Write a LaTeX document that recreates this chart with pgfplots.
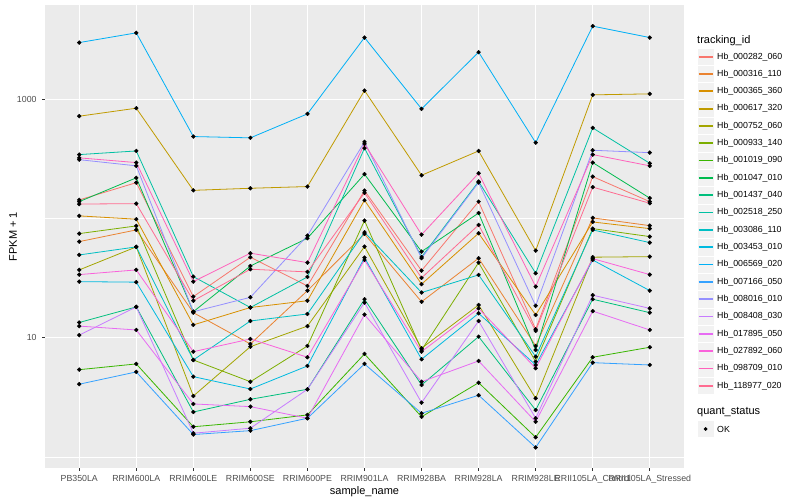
\documentclass[border=0pt]{standalone}
\usepackage{pgfplots}
\usepackage{pgfplotstable}
\pgfplotsset{compat=1.18}
\usepackage{fontspec}
\setmainfont{Liberation Sans}

\definecolor{bg}{HTML}{EBEBEB}
\definecolor{keybg}{HTML}{F2F2F2}
\definecolor{gray20}{HTML}{333333}
\definecolor{gray30}{HTML}{4D4D4D}
\definecolor{c1}{HTML}{F8766D}
\definecolor{c2}{HTML}{EA8331}
\definecolor{c3}{HTML}{D89000}
\definecolor{c4}{HTML}{C09B00}
\definecolor{c5}{HTML}{A3A500}
\definecolor{c6}{HTML}{7CAE00}
\definecolor{c7}{HTML}{39B600}
\definecolor{c8}{HTML}{00BB4E}
\definecolor{c9}{HTML}{00BF7D}
\definecolor{c10}{HTML}{00C1A3}
\definecolor{c11}{HTML}{00BFC4}
\definecolor{c12}{HTML}{00BAE0}
\definecolor{c13}{HTML}{00B0F6}
\definecolor{c14}{HTML}{35A2FF}
\definecolor{c15}{HTML}{9590FF}
\definecolor{c16}{HTML}{C77CFF}
\definecolor{c17}{HTML}{E76BF3}
\definecolor{c18}{HTML}{FA62DB}
\definecolor{c19}{HTML}{FF62BC}
\definecolor{c20}{HTML}{FF6C91}

% FPKM + 1, one row per sample (0 = PB350LA ... 10 = RRII105LA_Stressed)
\pgfplotstableread{
x  s1    s2    s3    s4    s5    s6    s7    s8    s9    s10   s11   s12   s13   s14   s15   s16   s17   s18   s19   s20
0  142.9 63.9  105   720   37.0  74.6  5.39  138.3 13.4  343   49.4  29.5  2984  4.07  311   10.5  12.5  33.8  322   132
1  199.6 80.1  98.5  840   57.7  86.5  6.02  219   18.1  368   57.7  29.2  3599  5.16  276   18.1  11.6  37.0  294   133
2  22.08 16.2  12.8  172   3.24  6.50  1.79  16.5  2.38  32.5  6.50  4.71  486   1.54  16.5  1.58  2.78  7.63  29.5  20.4
3  47.26 8.85  17.9  179   8.40  4.27  1.97  39.9  3.04  17.9  13.8  3.71  474   1.66  21.8  1.74  2.64  9.75  51.1  37.5
4  27.15 24.8  20.4  185   12.5  8.52  2.25  68.2  3.69  32.3  15.8  5.79  753   2.11  71.7  3.69  2.11  6.85  42.6  35.6
5  171.1 74.1  142   1181  58.0  95.8  7.30  235   21.0  388   76.6  46.9  3287  6.02  438   19.7  15.6  44.8  422   164
6  36.49 20.0  28.1  230   8.15  7.88  2.17  52.7  4.01  47.5  23.9  6.59  829   2.32  46.4  2.85  4.27  7.63  73.1  31.7
7  138.3 46.4  75.1  368   18.8  42.6  4.19  111   10.2  204   33.6  16.0  2480  3.29  200   13.8  6.38  17.6  239   88.2
8  11.76 8.52  15.5  53.7  3.10  6.29  1.46  7.88  2.47  34.7  6.93  5.90  432   1.20  18.5  2.11  1.97  5.54  26.8  11.4
9  224.2 101   93.4  1087  47.3  82.1  6.85  294   21.0  574   80.1  44.8  4097  6.17  373   22.7  16.7  46.0  343   183
10 138.3 87.0  82.1  1108  47.8  70.4  8.31  148   16.2  290   62.7  24.8  3287  5.90  356   17.6  11.6  33.8  276   134
}\fpkm

\begin{document}
\begin{tikzpicture}
\useasboundingbox (0pt,0pt) rectangle (800pt,500pt);
\begin{axis}[
  at={(45pt,32pt)}, anchor=south west,
  width=639pt, height=463pt, scale only axis,
  xmin=-0.6, xmax=10.6,
  ymode=log, ymin=0.807, ymax=6166,
  axis background/.style={fill=bg},
  axis line style={draw=none},
  xtick={0,...,10},
  xticklabels={PB350LA,RRIM600LA,RRIM600LE,RRIM600SE,RRIM600PE,RRIM901LA,RRIM928BA,RRIM928LA,RRIM928LE,RRII105LA\_Control,RRII105LA\_Stressed},
  ytick={10,1000}, yticklabels={10,1000},
  minor ytick={1,100},
  xmajorgrids, ymajorgrids, yminorgrids,
  major grid style={white, line width=1.07pt},
  minor grid style={white, line width=0.53pt},
  xtick pos=left, ytick pos=left,
  tick align=outside, major tick length=2.75pt, minor tick length=0pt,
  tick style={gray20, line width=1.07pt},
  ticklabel style={font=\fontsize{8.8}{10}\selectfont, text=gray30},
  xticklabel style={anchor=north, inner sep=0pt, yshift=-4pt},
  yticklabel style={anchor=east, inner sep=0pt, xshift=-5.5pt},
]
\pgfplotsinvokeforeach{1,...,20}{
  \addplot[color=c#1, line width=0.8pt, no markers] table[x=x, y=s#1]{\fpkm};
}
\pgfplotsinvokeforeach{1,...,20}{
  \addplot[only marks, mark=*, mark size=1.95pt, black] table[x=x, y=s#1]{\fpkm};
}
\end{axis}

\begin{scope}[x=1pt,y=1pt]
% axis titles
\node[font=\fontsize{11}{13}\selectfont] at (364.5,8.5) {sample\_name};
\node[font=\fontsize{11}{13}\selectfont, rotate=90] at (13,263.5) {FPKM + 1};

% legend
\node[anchor=west, inner sep=0pt, font=\fontsize{11}{13}\selectfont] at (697,459.3) {tracking\_id};
\foreach \n/\c [count=\i from 0] in {
  Hb\_000282\_060/c1, Hb\_000316\_110/c2, Hb\_000365\_360/c3, Hb\_000617\_320/c4,
  Hb\_000752\_060/c5, Hb\_000933\_140/c6, Hb\_001019\_090/c7, Hb\_001047\_010/c8,
  Hb\_001437\_040/c9, Hb\_002518\_250/c10, Hb\_003086\_110/c11, Hb\_003453\_010/c12,
  Hb\_006569\_020/c13, Hb\_007166\_050/c14, Hb\_008016\_010/c15, Hb\_008408\_030/c16,
  Hb\_017895\_050/c17, Hb\_027892\_060/c18, Hb\_098709\_010/c19, Hb\_118977\_020/c20}{
  \pgfmathsetmacro\yc{500-56.7-17.32*\i}
  \fill[keybg, draw=white, line width=0.5pt] (697,\yc-8.66) rectangle (714.3,\yc+8.66);
  \draw[color=\c, line width=1.7pt] (698.7,\yc) -- (712.6,\yc);
  \node[anchor=west, inner sep=0pt, font=\fontsize{8.8}{10}\selectfont] at (717,\yc) {\n};
}
\node[anchor=west, inner sep=0pt, font=\fontsize{11}{13}\selectfont] at (697,87.7) {quant\_status};
\fill[keybg, draw=white, line width=0.5pt] (697,62.34) rectangle (714.3,79.66);
\fill[black] (705.65,71) circle (1.95);
\node[anchor=west, inner sep=0pt, font=\fontsize{8.8}{10}\selectfont] at (717,71) {OK};
\end{scope}
\end{tikzpicture}
\end{document}
